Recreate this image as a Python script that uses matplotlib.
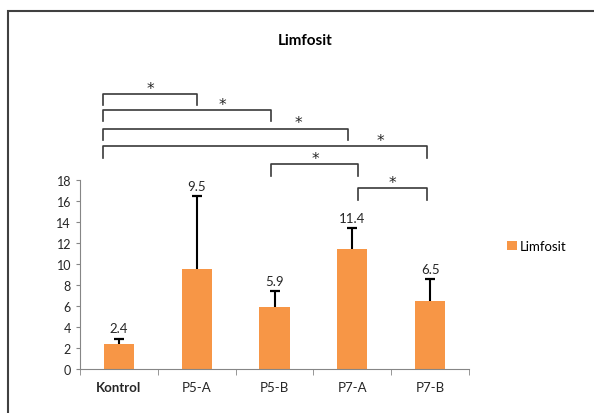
import matplotlib.pyplot as plt
from matplotlib.patches import Rectangle

plt.rcParams['font.family'] = ['Lato', 'DejaVu Sans']

groups = ['Kontrol', 'P5-A', 'P5-B', 'P7-A', 'P7-B']
means = [2.4, 9.5, 5.9, 11.4, 6.5]
errs = [0.5, 7.0, 1.5, 2.0, 2.1]

# significance brackets: (left x, right x, line height, star x)
br_left = [-0.2, -0.2, -0.2, -0.2, 1.95, 3.07]
br_right = [1.0, 1.95, 2.94, 3.96, 3.07, 3.96]
br_y = [26.2, 24.7, 22.9, 21.2, 19.5, 17.2]
star_x = [0.40, 1.33, 2.31, 3.36, 2.52, 3.52]

fig = plt.figure(figsize=(5.94, 4.14), dpi=100)
ax = fig.add_axes([80 / 594, 1 - 370 / 414, 389 / 594, 189 / 414])

x = list(range(len(groups)))
tops = [m + e for m, e in zip(means, errs)]
ax.bar(x, means, width=0.39, color='#F79646', label='Limfosit', zorder=2)
ax.vlines(x, means, tops, color='black', lw=1.5, zorder=3)
ax.plot(x, tops, ls='none', marker='_', ms=7, mew=1.6, color='black', zorder=3)

for xi, m, t in zip(x, means, tops):
    ax.annotate(str(m), (xi, t), xytext=(0, 3), textcoords='offset points',
                ha='center', va='bottom', fontsize=9.5, color='#262626')

drop = 1.1
for l, r, yb, sx in zip(br_left, br_right, br_y, star_x):
    ax.plot([l, l, r, r], [yb - drop, yb, yb, yb - drop], color='#3a3a3a',
            lw=1.2, clip_on=False)
    ax.text(sx, yb + 0.1, '*', ha='center', va='baseline', fontsize=11,
            family='DejaVu Sans', color='#262626', clip_on=False)

ax.set_xlim(-0.5, 4.5)
ax.set_ylim(0, 18)
ax.set_yticks(range(0, 19, 2))
ax.set_xticks(x)
ax.set_xticklabels(groups)
ax.get_xticklabels()[0].set_fontweight('bold')
ax.set_xticks([i - 0.5 for i in range(6)], minor=True)
ax.tick_params(axis='x', which='major', length=0, pad=9, labelsize=9.5, labelcolor='#262626')
ax.tick_params(axis='x', which='minor', length=4, color='#868686', direction='out')
ax.tick_params(axis='y', length=3, color='#868686', labelsize=9, labelcolor='#262626')
for s in ['top', 'right']:
    ax.spines[s].set_visible(False)
for s in ['left', 'bottom']:
    ax.spines[s].set_color('#868686')
ax.patch.set_alpha(0)

fig.text(305 / 594, 1 - 41 / 414, 'Limfosit', ha='center', va='center',
         fontsize=11, fontweight='bold', color='black')

fig.legend(loc='center left', bbox_to_anchor=(507 / 594, 1 - 247 / 414),
           frameon=False, handlelength=0.75, handleheight=0.75,
           handletextpad=0.2, borderpad=0, borderaxespad=0, fontsize=9.5)

fig.patches.append(Rectangle((8 / 594, -0.2), 1.2, 1.2 - 12 / 414,
                             transform=fig.transFigure, fill=False,
                             edgecolor='#404040', lw=1.5))

fig.savefig('out.png', dpi=100)
